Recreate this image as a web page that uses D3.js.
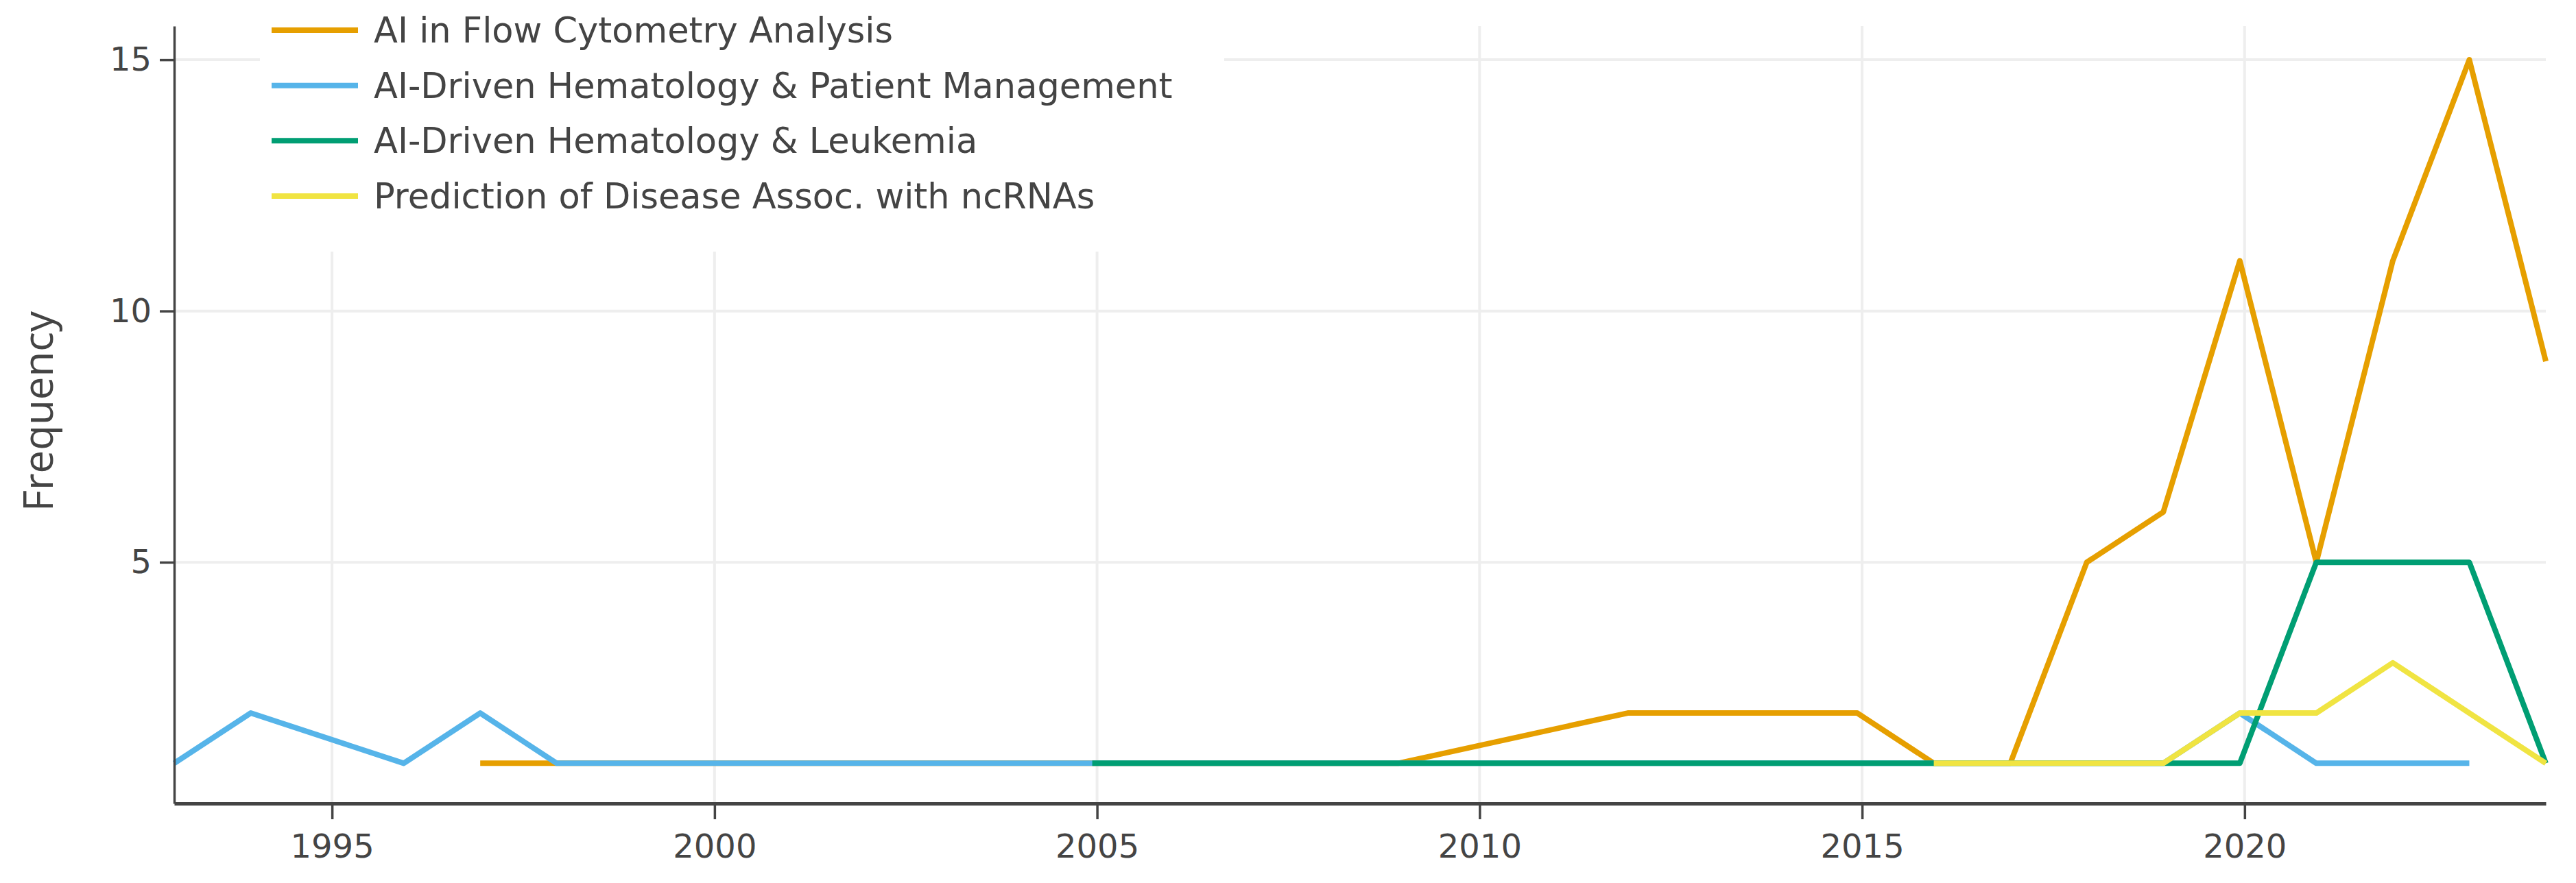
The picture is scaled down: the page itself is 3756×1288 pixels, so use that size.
<!DOCTYPE html>
<html>
<head>
<meta charset="utf-8">
<script src="https://cdn.jsdelivr.net/npm/d3@7"></script>
<style>
  html, body { margin: 0; padding: 0; background: #fff; }
  svg { display: block; }
</style>
</head>
<body>
<svg id="chart" width="3756" height="1288"></svg>
<script>
// ---------- DATA ----------
const seriesNames = [
  "AI in Flow Cytometry Analysis",
  "AI-Driven Hematology & Patient Management",
  "AI-Driven Hematology & Leukemia",
  "Prediction of Disease Assoc. with ncRNAs"
];
const seriesColors = ["#E69F00", "#56B4E9", "#009E73", "#F0E442"];

const flowYears = [1997, 1998, 1999, 2000, 2001, 2002, 2003, 2004, 2005, 2006, 2007, 2008, 2009, 2012, 2013, 2014, 2015, 2016, 2017, 2018, 2019, 2020, 2021, 2022, 2023, 2024];
const flowValues = [1, 1, 1, 1, 1, 1, 1, 1, 1, 1, 1, 1, 1, 2, 2, 2, 2, 1, 1, 5, 6, 11, 5, 11, 15, 9];

const patientYears = [1993, 1994, 1996, 1997, 1998, 1999, 2000, 2001, 2002, 2003, 2004, 2005, 2006, 2007, 2008, 2009, 2010, 2011, 2012, 2013, 2014, 2015, 2016, 2017, 2018, 2019, 2020, 2021, 2022, 2023];
const patientValues = [1, 2, 1, 2, 1, 1, 1, 1, 1, 1, 1, 1, 1, 1, 1, 1, 1, 1, 1, 1, 1, 1, 1, 1, 1, 1, 2, 1, 1, 1];

const leukemiaYears = [2005, 2006, 2007, 2008, 2009, 2010, 2011, 2012, 2013, 2014, 2015, 2016, 2017, 2018, 2019, 2020, 2021, 2022, 2023, 2024];
const leukemiaValues = [1, 1, 1, 1, 1, 1, 1, 1, 1, 1, 1, 1, 1, 1, 1, 1, 5, 5, 5, 1];

const ncrnaYears = [2016, 2017, 2018, 2019, 2020, 2021, 2022, 2023, 2024];
const ncrnaValues = [1, 1, 1, 1, 2, 2, 3, 2, 1];

const xTicks = [1995, 2000, 2005, 2010, 2015, 2020];
const yTicks = [5, 10, 15];
const yTitle = "Frequency";

const series = [
  { name: seriesNames[0], color: seriesColors[0], years: flowYears, values: flowValues },
  { name: seriesNames[1], color: seriesColors[1], years: patientYears, values: patientValues },
  { name: seriesNames[2], color: seriesColors[2], years: leukemiaYears, values: leukemiaValues },
  { name: seriesNames[3], color: seriesColors[3], years: ncrnaYears, values: ncrnaValues }
];

// ---------- LAYOUT ----------
const plot = { left: 254, right: 3712, top: 38, bottom: 1172 };
const svg = d3.select("#chart");

const x = d3.scaleLinear().domain([1993, 2024]).range([plot.left, plot.right]);
// tick/grid positions in the reference sit slightly right of the data years
const xTickScale = d3.scaleLinear().domain([1992.937, 2023.937]).range([plot.left, plot.right]);
const y = d3.scaleLinear().domain([0.2, 15.67]).range([plot.bottom, plot.top]);

const tickFont = "'DejaVu Sans', Verdana, sans-serif";

// gridlines
const grid = svg.append("g");
grid.selectAll("line.vx").data(xTicks).enter().append("line")
  .attr("x1", d => xTickScale(d)).attr("x2", d => xTickScale(d))
  .attr("y1", plot.top).attr("y2", plot.bottom)
  .attr("stroke", "#eeeeee").attr("stroke-width", 4);
grid.selectAll("line.hy").data(yTicks).enter().append("line")
  .attr("x1", plot.left).attr("x2", plot.right)
  .attr("y1", d => y(d)).attr("y2", d => y(d))
  .attr("stroke", "#eeeeee").attr("stroke-width", 4);

// lines
const lineGen = d3.line().x(d => x(d[0])).y(d => y(d[1]));
const linesG = svg.append("g");
series.forEach(s => {
  const pts = s.years.map((yr, i) => [yr, s.values[i]]);
  linesG.append("path")
    .datum(pts)
    .attr("d", lineGen)
    .attr("fill", "none")
    .attr("stroke", s.color)
    .attr("stroke-width", 8)
    .attr("stroke-linejoin", "round");
});

// x axis
const xAxis = d3.axisBottom(xTickScale).tickValues(xTicks).tickFormat(d3.format("d"))
  .tickSize(23).tickSizeOuter(0).tickPadding(22);
const gx = svg.append("g").attr("transform", `translate(0,${plot.bottom})`).call(xAxis);
gx.select(".domain").attr("stroke", "#444").attr("stroke-width", 5);
gx.selectAll(".tick line").attr("stroke", "#444").attr("stroke-width", 3.5);
gx.selectAll(".tick text").attr("fill", "#444")
  .style("font-family", tickFont).style("font-size", "48px");

// y axis
const yAxis = d3.axisLeft(y).tickValues(yTicks).tickFormat(d3.format("d"))
  .tickSize(21).tickSizeOuter(0).tickPadding(12);
const gy = svg.append("g").attr("transform", `translate(${plot.left},0)`).call(yAxis);
gy.select(".domain").attr("stroke", "#444").attr("stroke-width", 3.5);
gy.selectAll(".tick line").attr("stroke", "#444").attr("stroke-width", 3.5);
gy.selectAll(".tick text").attr("fill", "#444")
  .style("font-family", tickFont).style("font-size", "48px");

// y title
svg.append("text")
  .attr("transform", `translate(77,${(plot.top + plot.bottom) / 2 - 5}) rotate(-90)`)
  .attr("text-anchor", "middle")
  .attr("fill", "#444")
  .style("font-family", "'Open Sans', sans-serif")
  .style("font-size", "60px")
  .text(yTitle);

// legend
const legend = svg.append("g");
legend.append("rect")
  .attr("x", 379).attr("y", 0).attr("width", 1785 - 379).attr("height", 367)
  .attr("fill", "#fff");
const legendY = d3.scaleLinear().domain([0, 3]).range([44, 286]);
const items = legend.selectAll("g.item").data(series).enter().append("g")
  .attr("transform", (d, i) => `translate(0,${legendY(i)})`);
items.append("line")
  .attr("x1", 396).attr("x2", 522).attr("y1", 0).attr("y2", 0)
  .attr("stroke", d => d.color).attr("stroke-width", 8);
items.append("text")
  .attr("x", 545).attr("y", 18)
  .attr("fill", "#444")
  .style("font-family", tickFont).style("font-size", "51px")
  .text(d => d.name);
</script>
</body>
</html>
